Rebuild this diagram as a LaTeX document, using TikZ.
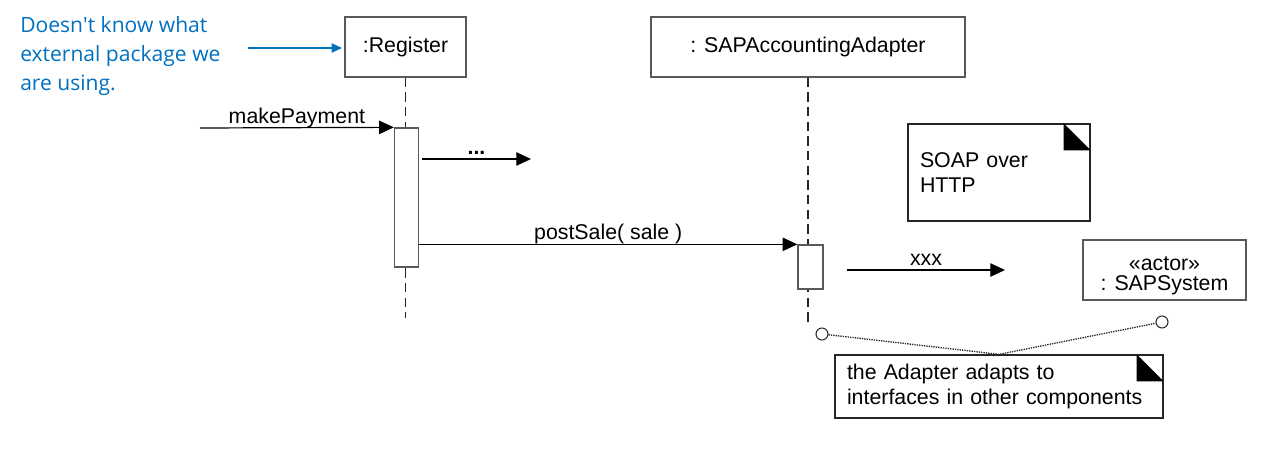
\documentclass[tikz,border=0pt]{standalone}
\usepackage{fontspec}
\setmainfont{Liberation Sans}
\newfontfamily\hintfont{Open Sans}
\usetikzlibrary{arrows.meta,positioning}
\definecolor{hintblue}{RGB}{0,112,192}
\begin{document}
\begin{tikzpicture}[x=0.75pt,y=-0.75pt,
		font=\fontsize{16}{19}\selectfont,
		obj/.style={draw=black!65,line width=1pt,fill=white,inner sep=0pt,minimum height=60*0.75pt},
		bar/.style={draw=black!65,line width=1pt,fill=white,inner sep=0pt,minimum width=24*0.75pt},
		life/.style={draw=black!85,line width=1pt,dash pattern=on 7pt off 4pt},
		msg/.style={draw,line width=0.9pt,-{Triangle[length=11pt,width=10pt]}},
		lbl/.style={inner sep=0pt,text depth=0pt},
		memo/.style={draw=black!85,line width=1pt,align=left,inner xsep=12*0.75pt,inner ysep=0pt},
		pin/.style={circle,draw=black!85,line width=0.8pt,fill=white,minimum size=12*0.75pt,inner sep=0pt},
		link/.style={draw=black!85,line width=1pt,dash pattern=on 1pt off 0.8pt},
		hint/.style={draw=hintblue,line width=2pt,-{Triangle[length=8pt,width=6.5pt]},shorten >=1.5pt}]
	\useasboundingbox (0,0) rectangle (1279,449);

	% objects and lifelines
	\node[obj,minimum width=121*0.75pt] (reg) at (405.5,47) {:Register};
	\node[obj,minimum width=314*0.75pt] (sap) at (808,47) {: SAPAccountingAdapter};
	\coordinate (regend) at (406,318);
	\coordinate (sapend) at (808,322);
	\draw[life] (reg.south) -- (reg.south |- regend);
	\draw[life] (sap.south) -- (sap.south |- sapend);
	\node[bar,minimum height=139*0.75pt] (regbar) at (406.5,197.5) {};
	\node[bar,minimum width=25*0.75pt,minimum height=44*0.75pt] (sapbar) at (810.5,267) {};

	% messages
	\coordinate (payin) at (200,128);
	\draw[msg] (payin) -- (regbar.north west) node[lbl,midway,above=3pt] {makePayment};
	\coordinate (dotsfrom) at (422,159);
	\coordinate (dotsto) at (531,159);
	\draw[msg] (dotsfrom) -- (dotsto) node[lbl,midway,above=3pt] {\textbf{...}};
	\draw[msg] (regbar.east |- sapbar.north) -- (sapbar.north west) node[lbl,midway,above=3pt] {postSale( sale )};
	\coordinate (xxxfrom) at (847,270);
	\coordinate (xxxto) at (1005,270);
	\draw[msg] (xxxfrom) -- (xxxto) node[lbl,midway,above=3pt] {xxx};

	% actor
	\node[obj,minimum width=163*0.75pt,align=center,font=\fontsize{16}{15.5}\selectfont] (actor) at (1164.5,270) {\rule{0pt}{19pt}«actor»\\: SAPSystem};

	% notes
	\node[memo,text width=158*0.75pt,minimum height=97*0.75pt] (soap) at (999,172.5) {SOAP over\\HTTP};
	\fill (soap.north east) ++(-27,0) -- ++(0,27) -- ++(27,0) -- cycle;
	\node[memo,text width=304*0.75pt,minimum height=63*0.75pt] (adnote) at (999,386.5) {the Adapter adapts to\\interfaces in other components};
	\fill (adnote.north east) ++(-27,0) -- ++(0,27) -- ++(27,0) -- cycle;
	\node[pin] (pinA) at (822,334) {};
	\node[pin] (pinB) at (1162,322) {};
	\draw[link] (pinA) -- (adnote.north) -- (pinB);

	% remark
	\node[anchor=west,align=left,inner sep=0pt,text=hintblue,font=\hintfont\fontsize{15.8}{21.75}\selectfont] (remark) at (20,56) {Doesn\textquotesingle t know what\\external package we\\are using.};
	\coordinate (hintfrom) at (248,48);
	\draw[hint] (hintfrom) -- (reg.west |- hintfrom);
\end{tikzpicture}
\end{document}
